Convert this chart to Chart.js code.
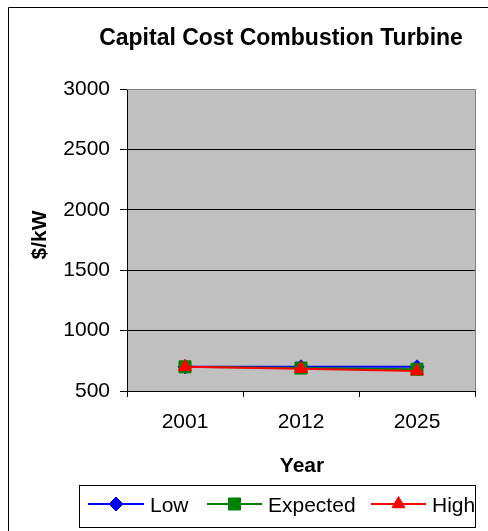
<!DOCTYPE html>
<html>
<head>
<meta charset="utf-8">
<script src="https://cdn.jsdelivr.net/npm/chart.js@4"></script>
<style>
  html, body { margin: 0; padding: 0; background: #ffffff; }
  #wrap { width: 488px; height: 531px; }
</style>
</head>
<body>
<div id="wrap"><canvas id="c" width="488" height="531"></canvas></div>
<script>
// Capital cost of a combustion turbine, $/kW, by scenario
const years = ['2001', '2012', '2025'];
const lowCost = [700, 700, 700];
const expectedCost = [700, 690, 680];
const highCost = [700, 685, 665];
const yTicks = [500, 1000, 1500, 2000, 2500, 3000];

const titleText = 'Capital Cost Combustion Turbine';
const xTitle = 'Year';
const yTitle = '$/kW';
const FONT = 'Arial, "Liberation Sans", sans-serif';

const series = [
  { label: 'Low', data: lowCost, color: '#0000FF', style: 'rectRot', radius: 7 },
  { label: 'Expected', data: expectedCost, color: '#008000', style: 'rect', radius: 8.5 },
  { label: 'High', data: highCost, color: '#FF0000', style: 'triangle', radius: 7.5 }
];

function drawMarker(ctx, style, radius, x, y, color) {
  if (Chart.helpers && Chart.helpers.drawPoint) {
    ctx.save();
    ctx.fillStyle = color;
    ctx.strokeStyle = color;
    ctx.lineWidth = 1;
    Chart.helpers.drawPoint(ctx, { pointStyle: style, radius: radius, borderWidth: 1, rotation: 0 }, x, y);
    ctx.restore();
  }
}

const decorations = {
  id: 'decorations',
  beforeDraw(chart) {
    const { ctx, chartArea: a } = chart;
    ctx.save();
    ctx.fillStyle = '#C0C0C0';
    ctx.fillRect(a.left, a.top, a.right - a.left, a.bottom - a.top);
    ctx.restore();
  },
  beforeDatasetsDraw(chart) {
    const { ctx, chartArea: a } = chart;
    ctx.save();
    ctx.strokeStyle = '#808080';
    ctx.lineWidth = 1;
    ctx.beginPath();
    ctx.moveTo(a.left, a.top + 0.5);
    ctx.lineTo(a.right + 0.5, a.top + 0.5);
    ctx.lineTo(a.right + 0.5, a.bottom);
    ctx.stroke();
    ctx.restore();
  },
  afterDraw(chart) {
    const { ctx } = chart;
    ctx.save();
    // outer frame
    ctx.strokeStyle = '#000000';
    ctx.lineWidth = 1;
    ctx.beginPath();
    ctx.moveTo(8.5, 531);
    ctx.lineTo(8.5, 7.5);
    ctx.lineTo(488, 7.5);
    ctx.stroke();

    // title
    ctx.fillStyle = '#000000';
    ctx.textAlign = 'center';
    ctx.textBaseline = 'alphabetic';
    ctx.font = 'bold 23px ' + FONT;
    ctx.fillText(titleText, 281, 45);

    // axis titles
    ctx.font = 'bold 21px ' + FONT;
    ctx.fillText(xTitle, 302, 472);
    ctx.save();
    ctx.translate(46, 235);
    ctx.rotate(-Math.PI / 2);
    ctx.fillText(yTitle, 0, 0);
    ctx.restore();

    // legend
    ctx.strokeStyle = '#000000';
    ctx.lineWidth = 1;
    ctx.strokeRect(79.5, 485.5, 396, 42);
    const items = [
      { lineFrom: 88, lineTo: 144, textX: 150 },
      { lineFrom: 207, lineTo: 262, textX: 268 },
      { lineFrom: 371, lineTo: 426, textX: 432 }
    ];
    const ly = 504;
    series.forEach((s, i) => {
      const it = items[i];
      ctx.strokeStyle = s.color;
      ctx.lineWidth = 2;
      ctx.beginPath();
      ctx.moveTo(it.lineFrom, ly);
      ctx.lineTo(it.lineTo, ly);
      ctx.stroke();
      drawMarker(ctx, s.style, s.radius, (it.lineFrom + it.lineTo) / 2, ly, s.color);
      ctx.fillStyle = '#000000';
      ctx.font = '21px ' + FONT;
      ctx.textAlign = 'left';
      ctx.textBaseline = 'alphabetic';
      ctx.fillText(s.label, it.textX, 512);
    });
    ctx.restore();
  }
};

new Chart(document.getElementById('c'), {
  type: 'line',
  data: {
    labels: years,
    datasets: series.map((s, i) => ({
      label: s.label,
      data: s.data,
      borderColor: s.color,
      backgroundColor: s.color,
      borderWidth: 2,
      pointStyle: s.style,
      pointRadius: s.radius,
      pointBorderWidth: 1,
      pointBackgroundColor: s.color,
      pointBorderColor: s.color,
      tension: 0,
      fill: false,
      order: series.length - i
    }))
  },
  options: {
    responsive: false,
    animation: false,
    devicePixelRatio: 1,
    layout: { padding: { top: 89, right: 13, bottom: 0, left: 0 } },
    plugins: {
      legend: { display: false },
      title: { display: false },
      tooltip: { enabled: false }
    },
    scales: {
      x: {
        type: 'category',
        offset: true,
        afterFit(scale) { scale.height = 140; },
        grid: {
          offset: true,
          drawOnChartArea: false,
          drawTicks: true,
          tickLength: 6,
          tickColor: '#000000',
          color: '#000000'
        },
        border: { display: true, color: '#000000', width: 1 },
        ticks: {
          color: '#000000',
          font: { family: FONT, size: 21 },
          padding: 13,
          maxRotation: 0,
          autoSkip: false
        }
      },
      y: {
        min: 500,
        max: 3000,
        afterFit(scale) { scale.width = 127; },
        afterBuildTicks(scale) { scale.ticks = yTicks.map(v => ({ value: v })); },
        grid: {
          color: ctx => (ctx.tick && ctx.tick.value === 3000 ? '#808080' : '#000000'),
          lineWidth: 1,
          drawTicks: true,
          tickLength: 7,
          tickColor: '#000000'
        },
        border: { display: true, color: '#000000', width: 1 },
        ticks: {
          color: '#000000',
          font: { family: FONT, size: 21 },
          padding: 10,
          callback: v => String(v)
        }
      }
    }
  },
  plugins: [decorations]
});
</script>
</body>
</html>
